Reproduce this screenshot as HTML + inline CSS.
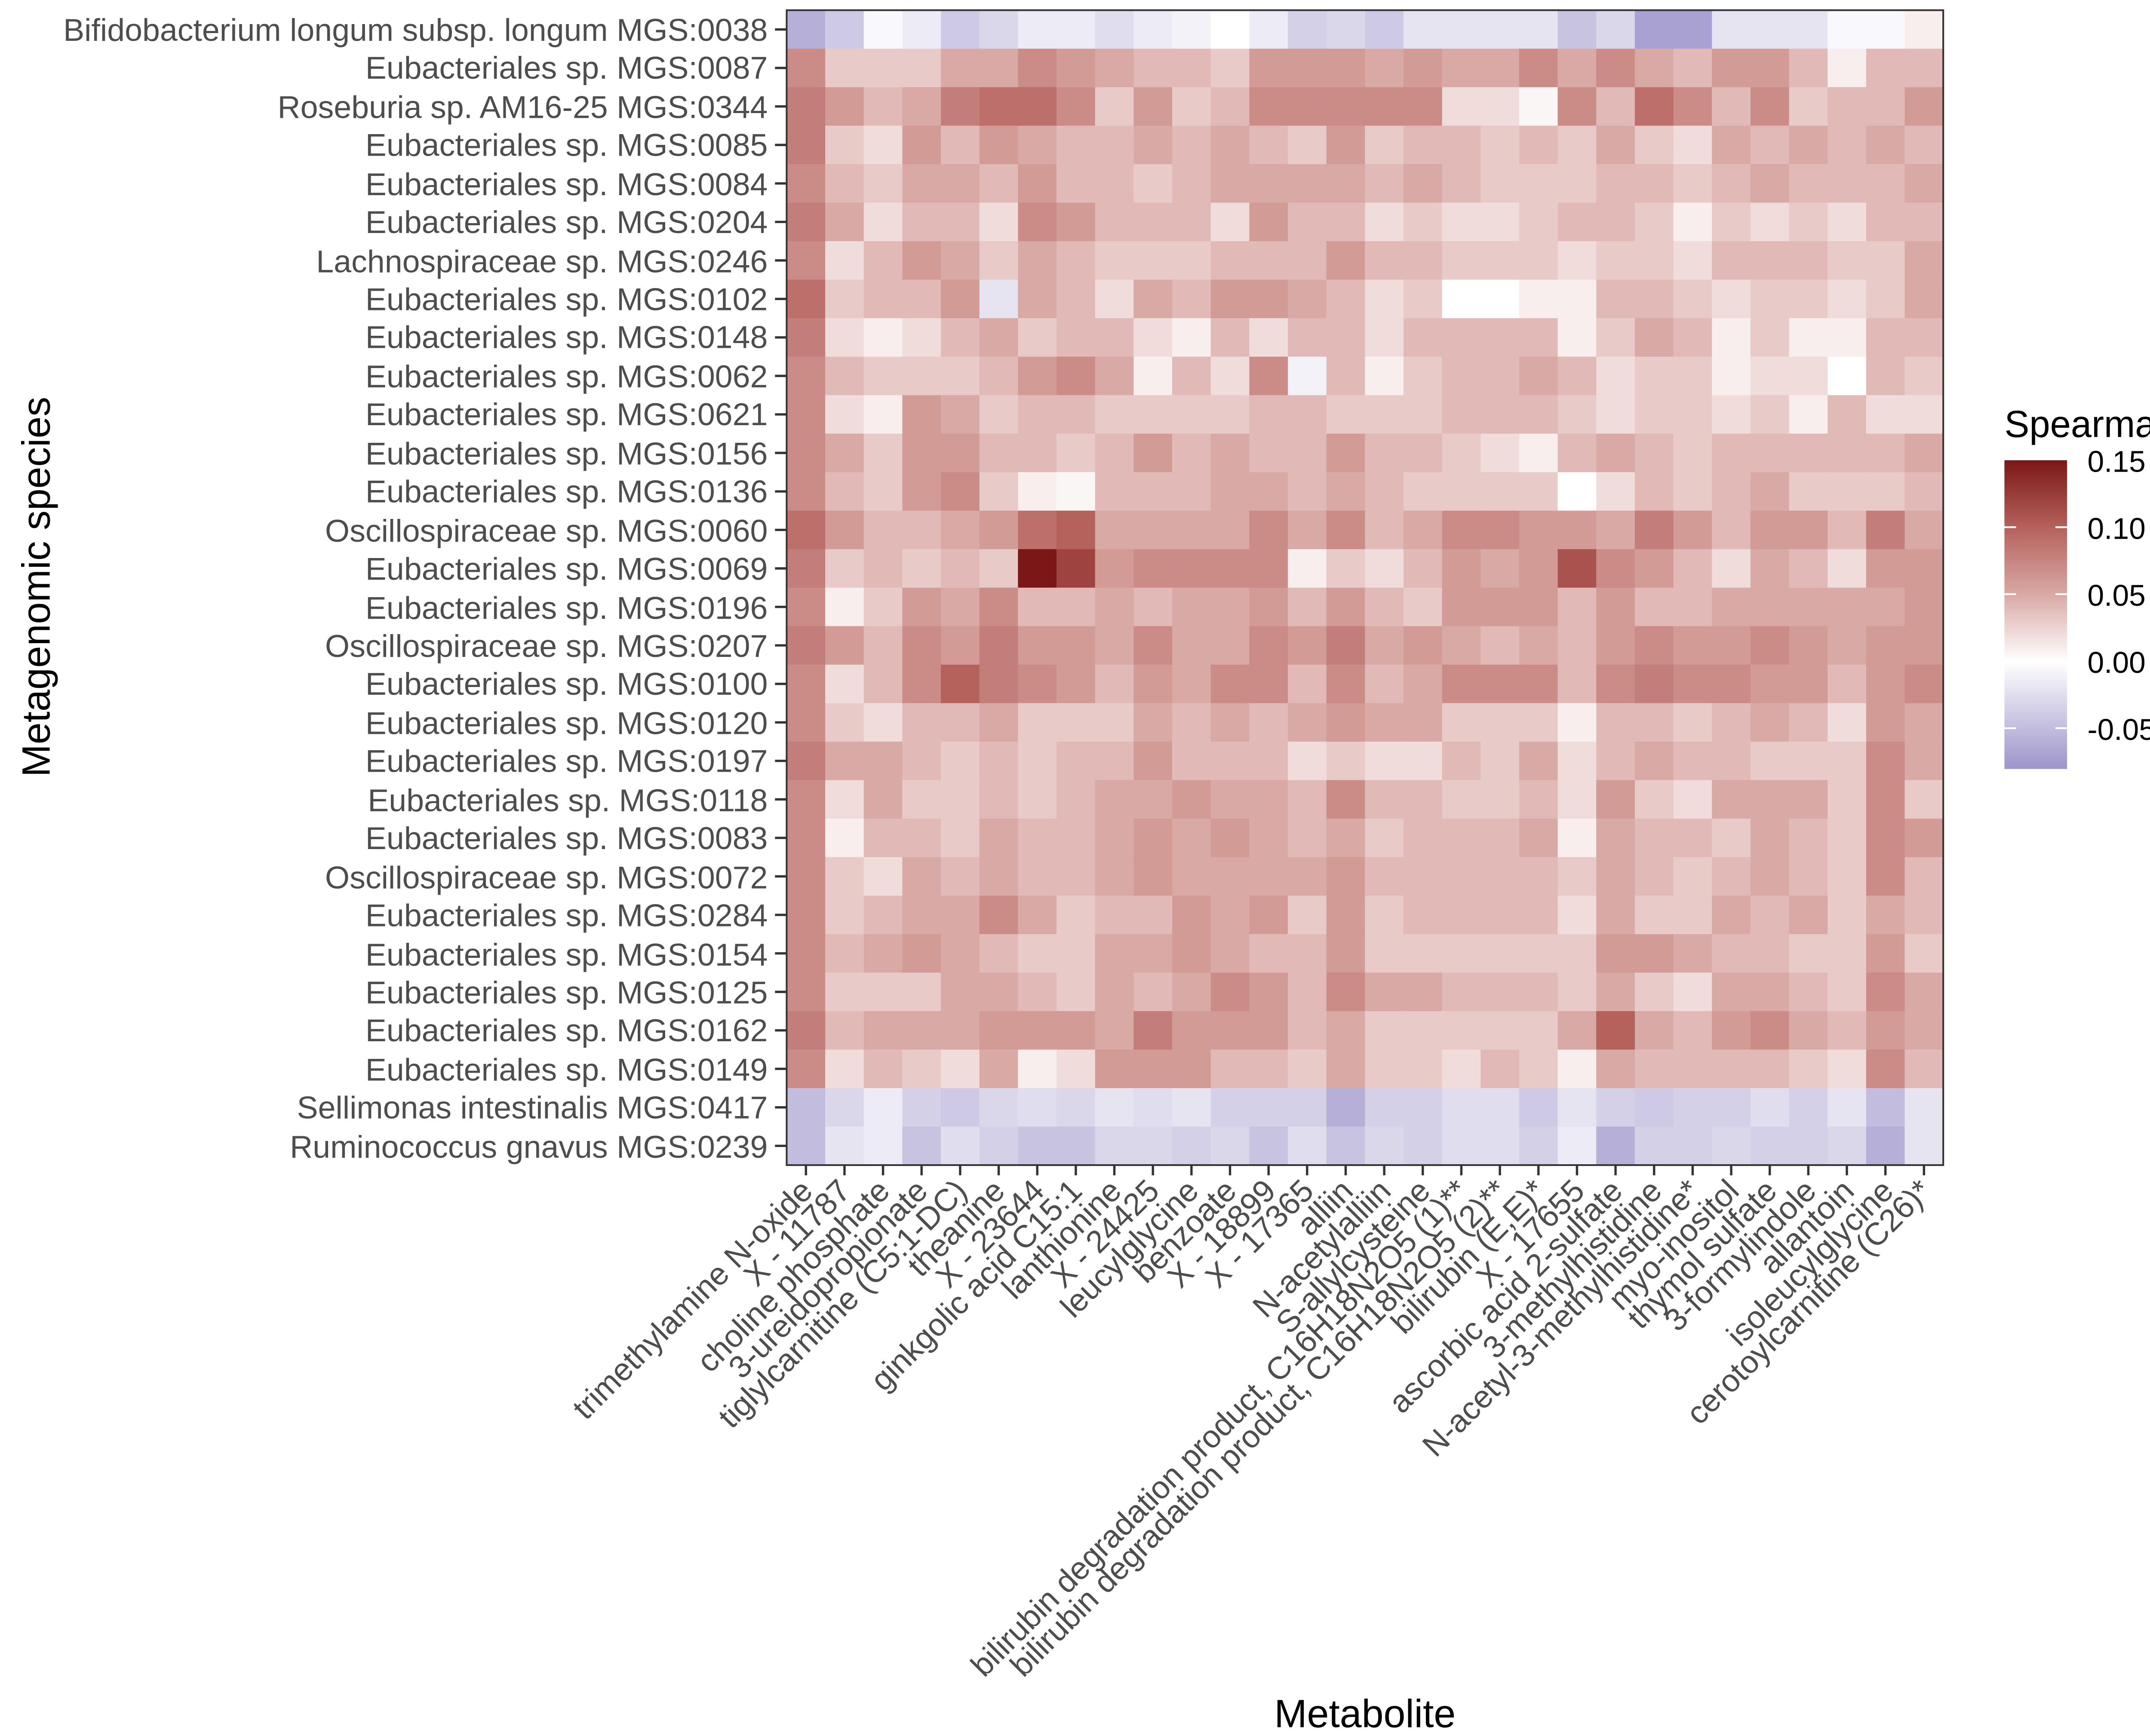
<!DOCTYPE html>
<html><head><meta charset="utf-8">
<style>
html,body{margin:0;padding:0;background:#fff;overflow:hidden;width:5312px;height:4038px;}
svg{display:block;overflow:hidden;}
text{font-family:"Liberation Sans",Arial,sans-serif;}
</style></head>
<body>
<svg id="s" width="5312" height="4038" viewBox="0 0 1568 1192" xmlns="http://www.w3.org/2000/svg">
<defs>
<linearGradient id="lg" x1="0" y1="1" x2="0" y2="0">
<stop offset="0" stop-color="#9d94ca"/>
<stop offset="0.347" stop-color="#ffffff"/>
<stop offset="0.565" stop-color="#d9a9a5"/>
<stop offset="0.782" stop-color="#b5615c"/>
<stop offset="1" stop-color="#7b1717"/>
</linearGradient>
</defs>
<g id="cells"></g>
<rect x="540" y="7" width="794" height="793" fill="none" stroke="#333" stroke-width="1.2"/>
<g font-size="21.7" fill="#4d4d4d" text-anchor="end">
<text x="527" y="28">Bifidobacterium longum subsp. longum MGS:0038</text>
<text x="527" y="54">Eubacteriales sp. MGS:0087</text>
<text x="527" y="81">Roseburia sp. AM16-25 MGS:0344</text>
<text x="527" y="107">Eubacteriales sp. MGS:0085</text>
<text x="527" y="134">Eubacteriales sp. MGS:0084</text>
<text x="527" y="160">Eubacteriales sp. MGS:0204</text>
<text x="527" y="187">Lachnospiraceae sp. MGS:0246</text>
<text x="527" y="213">Eubacteriales sp. MGS:0102</text>
<text x="527" y="239">Eubacteriales sp. MGS:0148</text>
<text x="527" y="266">Eubacteriales sp. MGS:0062</text>
<text x="527" y="292">Eubacteriales sp. MGS:0621</text>
<text x="527" y="319">Eubacteriales sp. MGS:0156</text>
<text x="527" y="345">Eubacteriales sp. MGS:0136</text>
<text x="527" y="372">Oscillospiraceae sp. MGS:0060</text>
<text x="527" y="398">Eubacteriales sp. MGS:0069</text>
<text x="527" y="425">Eubacteriales sp. MGS:0196</text>
<text x="527" y="451">Oscillospiraceae sp. MGS:0207</text>
<text x="527" y="477">Eubacteriales sp. MGS:0100</text>
<text x="527" y="504">Eubacteriales sp. MGS:0120</text>
<text x="527" y="530">Eubacteriales sp. MGS:0197</text>
<text x="527" y="557">Eubacteriales sp. MGS:0118</text>
<text x="527" y="583">Eubacteriales sp. MGS:0083</text>
<text x="527" y="610">Oscillospiraceae sp. MGS:0072</text>
<text x="527" y="636">Eubacteriales sp. MGS:0284</text>
<text x="527" y="663">Eubacteriales sp. MGS:0154</text>
<text x="527" y="689">Eubacteriales sp. MGS:0125</text>
<text x="527" y="715">Eubacteriales sp. MGS:0162</text>
<text x="527" y="742">Eubacteriales sp. MGS:0149</text>
<text x="527" y="768">Sellimonas intestinalis MGS:0417</text>
<text x="527" y="795">Ruminococcus gnavus MGS:0239</text>
</g>
<g id="ticks" stroke="#333" stroke-width="1.6"></g>
<g font-size="21.7" fill="#4d4d4d" text-anchor="end">
<text transform="translate(559,819) rotate(-45)">trimethylamine N-oxide</text>
<text transform="translate(585,819) rotate(-45)">X - 11787</text>
<text transform="translate(612,819) rotate(-45)">choline phosphate</text>
<text transform="translate(638,819) rotate(-45)">3-ureidopropionate</text>
<text transform="translate(665,819) rotate(-45)">tiglylcarnitine (C5:1-DC)</text>
<text transform="translate(691,819) rotate(-45)">theanine</text>
<text transform="translate(718,819) rotate(-45)">X - 23644</text>
<text transform="translate(744,819) rotate(-45)">ginkgolic acid C15:1</text>
<text transform="translate(771,819) rotate(-45)">lanthionine</text>
<text transform="translate(797,819) rotate(-45)">X - 24425</text>
<text transform="translate(824,819) rotate(-45)">leucylglycine</text>
<text transform="translate(850,819) rotate(-45)">benzoate</text>
<text transform="translate(877,819) rotate(-45)">X - 18899</text>
<text transform="translate(903,819) rotate(-45)">X - 17365</text>
<text transform="translate(930,819) rotate(-45)">alliin</text>
<text transform="translate(956,819) rotate(-45)">N-acetylalliin</text>
<text transform="translate(983,819) rotate(-45)">S-allylcysteine</text>
<text transform="translate(1009,819) rotate(-45)">bilirubin degradation product, C16H18N2O5 (1)**</text>
<text transform="translate(1036,819) rotate(-45)">bilirubin degradation product, C16H18N2O5 (2)**</text>
<text transform="translate(1062,819) rotate(-45)">bilirubin (E,E)*</text>
<text transform="translate(1089,819) rotate(-45)">X - 17655</text>
<text transform="translate(1115,819) rotate(-45)">ascorbic acid 2-sulfate</text>
<text transform="translate(1142,819) rotate(-45)">3-methylhistidine</text>
<text transform="translate(1168,819) rotate(-45)">N-acetyl-3-methylhistidine*</text>
<text transform="translate(1195,819) rotate(-45)">myo-inositol</text>
<text transform="translate(1221,819) rotate(-45)">thymol sulfate</text>
<text transform="translate(1248,819) rotate(-45)">3-formylindole</text>
<text transform="translate(1274,819) rotate(-45)">allantoin</text>
<text transform="translate(1301,819) rotate(-45)">isoleucylglycine</text>
<text transform="translate(1327,819) rotate(-45)">cerotoylcarnitine (C26)*</text>
</g>
<text x="937" y="1186" font-size="27" text-anchor="middle" fill="#000">Metabolite</text>
<text transform="translate(34,403) rotate(-90)" font-size="27" text-anchor="middle" fill="#000">Metagenomic species</text>
<text x="1376" y="300" font-size="26" fill="#000" textLength="180" lengthAdjust="spacingAndGlyphs">Spearman's rho</text>
<rect x="1376" y="316" width="43" height="212" fill="url(#lg)"/>
<g stroke="#fff" stroke-width="1.2">
<line x1="1376" y1="362" x2="1384" y2="362"/><line x1="1411" y1="362" x2="1419" y2="362"/>
<line x1="1376" y1="408" x2="1384" y2="408"/><line x1="1411" y1="408" x2="1419" y2="408"/>
<line x1="1376" y1="454" x2="1384" y2="454"/><line x1="1411" y1="454" x2="1419" y2="454"/>
<line x1="1376" y1="500" x2="1384" y2="500"/><line x1="1411" y1="500" x2="1419" y2="500"/>
</g>
<g font-size="20.5" fill="#000">
<text x="1433" y="324">0.15</text>
<text x="1433" y="370">0.10</text>
<text x="1433" y="416">0.05</text>
<text x="1433" y="462">0.00</text>
<text x="1433" y="508">-0.05</text>
</g>
</svg>
<script>
var V=[
[-0.06,-0.04,-0.005,-0.015,-0.04,-0.03,-0.015,-0.015,-0.025,-0.015,-0.01,0.0,-0.015,-0.035,-0.03,-0.04,-0.02,-0.02,-0.02,-0.02,-0.045,-0.03,-0.07,-0.07,-0.02,-0.02,-0.02,-0.005,-0.005,0.01],
[0.07,0.03,0.03,0.03,0.05,0.05,0.07,0.06,0.05,0.04,0.04,0.03,0.06,0.06,0.06,0.05,0.06,0.05,0.05,0.07,0.05,0.07,0.05,0.04,0.06,0.06,0.04,0.01,0.04,0.04],
[0.08,0.06,0.04,0.05,0.08,0.09,0.09,0.07,0.03,0.06,0.03,0.04,0.07,0.07,0.07,0.07,0.07,0.02,0.02,0.005,0.07,0.04,0.09,0.07,0.04,0.07,0.03,0.04,0.04,0.06],
[0.08,0.03,0.02,0.06,0.04,0.06,0.05,0.04,0.04,0.05,0.04,0.05,0.04,0.03,0.06,0.03,0.04,0.04,0.03,0.04,0.03,0.05,0.03,0.02,0.05,0.04,0.05,0.04,0.05,0.04],
[0.07,0.04,0.03,0.05,0.05,0.04,0.06,0.04,0.04,0.03,0.04,0.05,0.05,0.05,0.05,0.04,0.05,0.04,0.03,0.03,0.03,0.04,0.04,0.03,0.04,0.05,0.04,0.04,0.04,0.05],
[0.08,0.05,0.02,0.04,0.04,0.02,0.07,0.06,0.04,0.04,0.04,0.02,0.06,0.04,0.04,0.02,0.03,0.02,0.02,0.03,0.04,0.04,0.03,0.01,0.03,0.02,0.03,0.02,0.04,0.04],
[0.07,0.02,0.04,0.06,0.05,0.03,0.05,0.04,0.03,0.03,0.03,0.04,0.04,0.04,0.06,0.04,0.04,0.03,0.03,0.03,0.02,0.03,0.03,0.02,0.04,0.04,0.04,0.03,0.03,0.05],
[0.09,0.03,0.04,0.04,0.06,-0.02,0.05,0.04,0.02,0.05,0.04,0.06,0.06,0.05,0.04,0.02,0.03,0.0,0.0,0.01,0.01,0.04,0.04,0.03,0.02,0.03,0.03,0.02,0.03,0.05],
[0.08,0.02,0.01,0.02,0.04,0.05,0.03,0.04,0.04,0.02,0.01,0.04,0.02,0.04,0.04,0.02,0.04,0.04,0.04,0.04,0.01,0.03,0.05,0.04,0.01,0.03,0.01,0.01,0.04,0.04],
[0.07,0.04,0.03,0.03,0.03,0.04,0.06,0.07,0.05,0.01,0.04,0.02,0.07,-0.01,0.04,0.01,0.03,0.04,0.04,0.05,0.04,0.02,0.03,0.03,0.01,0.02,0.02,0.0,0.04,0.03],
[0.07,0.02,0.01,0.06,0.05,0.03,0.04,0.04,0.03,0.03,0.03,0.03,0.04,0.04,0.03,0.03,0.03,0.04,0.04,0.04,0.03,0.02,0.03,0.03,0.02,0.03,0.01,0.04,0.02,0.02],
[0.07,0.05,0.03,0.06,0.06,0.04,0.04,0.03,0.04,0.06,0.04,0.05,0.04,0.04,0.06,0.04,0.04,0.03,0.02,0.01,0.04,0.05,0.04,0.03,0.04,0.04,0.04,0.04,0.04,0.05],
[0.07,0.04,0.03,0.06,0.07,0.03,0.01,0.005,0.04,0.04,0.04,0.05,0.05,0.04,0.05,0.04,0.03,0.03,0.03,0.03,0.0,0.02,0.04,0.03,0.04,0.05,0.03,0.03,0.03,0.04],
[0.09,0.06,0.04,0.04,0.05,0.06,0.09,0.10,0.05,0.05,0.05,0.05,0.07,0.05,0.07,0.04,0.05,0.07,0.07,0.06,0.06,0.05,0.08,0.06,0.04,0.06,0.06,0.04,0.08,0.05],
[0.08,0.03,0.04,0.03,0.04,0.03,0.15,0.12,0.06,0.07,0.07,0.07,0.07,0.01,0.03,0.02,0.04,0.06,0.05,0.06,0.11,0.07,0.06,0.04,0.02,0.05,0.04,0.02,0.06,0.06],
[0.07,0.01,0.03,0.06,0.05,0.07,0.04,0.04,0.05,0.04,0.05,0.05,0.06,0.04,0.06,0.04,0.03,0.06,0.06,0.06,0.04,0.06,0.04,0.04,0.05,0.05,0.05,0.05,0.05,0.06],
[0.08,0.06,0.04,0.07,0.06,0.08,0.06,0.06,0.05,0.07,0.05,0.05,0.07,0.06,0.08,0.05,0.06,0.05,0.04,0.05,0.04,0.06,0.07,0.06,0.06,0.07,0.06,0.05,0.06,0.06],
[0.07,0.02,0.04,0.07,0.10,0.08,0.07,0.06,0.04,0.06,0.05,0.07,0.07,0.04,0.07,0.04,0.05,0.07,0.07,0.07,0.04,0.07,0.08,0.07,0.07,0.06,0.06,0.04,0.06,0.07],
[0.07,0.03,0.02,0.04,0.04,0.05,0.03,0.03,0.03,0.05,0.04,0.05,0.04,0.05,0.06,0.05,0.05,0.03,0.03,0.03,0.01,0.04,0.04,0.03,0.04,0.05,0.04,0.02,0.06,0.05],
[0.08,0.05,0.05,0.04,0.03,0.04,0.03,0.04,0.04,0.06,0.04,0.04,0.04,0.02,0.03,0.02,0.02,0.04,0.03,0.05,0.02,0.04,0.05,0.04,0.04,0.03,0.03,0.03,0.07,0.05],
[0.07,0.02,0.05,0.03,0.03,0.04,0.03,0.04,0.05,0.05,0.06,0.05,0.05,0.04,0.07,0.04,0.04,0.03,0.03,0.04,0.02,0.06,0.03,0.02,0.05,0.05,0.05,0.03,0.07,0.03],
[0.07,0.01,0.04,0.04,0.03,0.05,0.04,0.04,0.05,0.06,0.05,0.06,0.05,0.04,0.05,0.03,0.04,0.04,0.04,0.05,0.01,0.05,0.04,0.04,0.03,0.05,0.04,0.03,0.07,0.06],
[0.07,0.03,0.02,0.05,0.04,0.05,0.04,0.04,0.05,0.06,0.05,0.05,0.05,0.05,0.06,0.04,0.04,0.04,0.04,0.04,0.03,0.05,0.04,0.03,0.04,0.05,0.04,0.03,0.07,0.04],
[0.07,0.03,0.04,0.05,0.05,0.07,0.05,0.03,0.04,0.04,0.06,0.05,0.06,0.03,0.06,0.03,0.04,0.04,0.04,0.04,0.02,0.05,0.03,0.03,0.05,0.04,0.05,0.03,0.05,0.04],
[0.07,0.04,0.05,0.06,0.05,0.04,0.03,0.03,0.05,0.05,0.06,0.05,0.04,0.04,0.06,0.03,0.03,0.03,0.03,0.03,0.03,0.06,0.06,0.05,0.04,0.04,0.03,0.03,0.06,0.03],
[0.07,0.03,0.03,0.03,0.05,0.05,0.04,0.03,0.05,0.04,0.05,0.07,0.06,0.04,0.07,0.05,0.05,0.04,0.04,0.04,0.03,0.05,0.03,0.02,0.05,0.05,0.04,0.03,0.07,0.05],
[0.08,0.04,0.05,0.05,0.05,0.06,0.06,0.06,0.05,0.08,0.06,0.06,0.06,0.04,0.05,0.03,0.03,0.03,0.03,0.03,0.05,0.10,0.05,0.04,0.06,0.07,0.05,0.04,0.06,0.05],
[0.07,0.02,0.04,0.03,0.02,0.05,0.01,0.02,0.06,0.06,0.06,0.04,0.04,0.03,0.05,0.03,0.03,0.02,0.04,0.03,0.01,0.05,0.04,0.04,0.04,0.04,0.03,0.02,0.07,0.04],
[-0.05,-0.03,-0.015,-0.035,-0.04,-0.03,-0.025,-0.03,-0.02,-0.025,-0.02,-0.035,-0.035,-0.035,-0.06,-0.035,-0.035,-0.025,-0.025,-0.04,-0.02,-0.035,-0.04,-0.035,-0.035,-0.025,-0.035,-0.02,-0.05,-0.02],
[-0.05,-0.02,-0.015,-0.045,-0.025,-0.035,-0.045,-0.045,-0.03,-0.03,-0.035,-0.03,-0.045,-0.025,-0.045,-0.03,-0.035,-0.025,-0.025,-0.035,-0.015,-0.06,-0.035,-0.035,-0.03,-0.035,-0.035,-0.03,-0.06,-0.02]];
function lerp(a,b,t){return a.map(function(x,i){return Math.round(x+(b[i]-x)*t);});}
function col(v){
 var W=[255,255,255],P=[157,148,202],S=[[0,W],[0.05,[217,169,165]],[0.10,[181,97,92]],[0.15,[123,23,23]]];
 var c;
 if(v<=0){c=lerp(W,P,Math.min(1,-v/0.08));}
 else{v=Math.min(v,0.15);for(var i=0;i<3;i++){if(v<=S[i+1][0]){c=lerp(S[i][1],S[i+1][1],(v-S[i][0])/0.05);break;}}}
 return "rgb("+c.join(",")+")";
}
var ns="http://www.w3.org/2000/svg",g=document.getElementById("cells"),tk=document.getElementById("ticks");
var x0=540,y0=7,cw=794/30,rh=793/30;
for(var r=0;r<30;r++)for(var c=0;c<30;c++){
 var e=document.createElementNS(ns,"rect");
 e.setAttribute("x",x0+c*cw);e.setAttribute("y",y0+r*rh);
 e.setAttribute("width",cw+0.4);e.setAttribute("height",rh+0.4);
 e.setAttribute("fill",col(V[r][c]));g.appendChild(e);
}
for(var i=0;i<30;i++){
 var l=document.createElementNS(ns,"line");var y=y0+(i+0.5)*rh;
 l.setAttribute("x1",532);l.setAttribute("x2",540);l.setAttribute("y1",y);l.setAttribute("y2",y);tk.appendChild(l);
 var m=document.createElementNS(ns,"line");var x=x0+(i+0.5)*cw;
 m.setAttribute("x1",x);m.setAttribute("x2",x);m.setAttribute("y1",800);m.setAttribute("y2",807);tk.appendChild(m);
}
</script>
</body></html>
